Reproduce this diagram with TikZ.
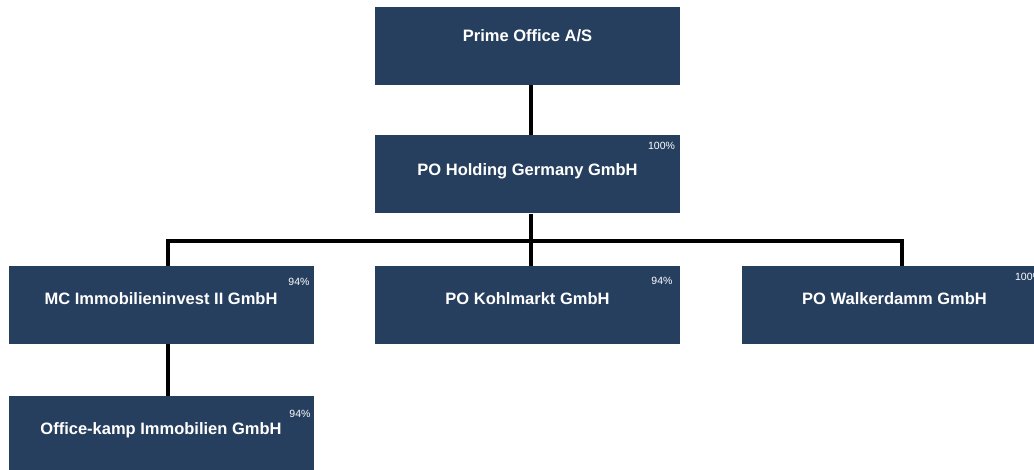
\documentclass[tikz,border=0pt]{standalone}
\usepackage{fontspec}
\setmainfont{Liberation Sans}
\usetikzlibrary{positioning}
\definecolor{boxblue}{RGB}{39,63,95}
\tikzset{
  entity/.style={fill=boxblue, text=white, inner sep=0pt, minimum width=305pt,
    text height=39pt, text depth=39pt, font=\fontsize{16.5}{18}\selectfont\bfseries},
  share/.style={text=white, inner sep=0pt, font=\fontsize{10.5}{12}\selectfont},
  link/.style={line width=4pt, black, line join=miter}
}

\begin{document}
\begin{tikzpicture}[x=1pt, y=-1pt]
    \clip (0,0) rectangle (1034,470);
    % companies
    \node[entity, text height=34.5pt, text depth=43.5pt] (prime) at (527.5,46) {Prime Office A/S};
    \node[entity, text height=40.5pt, text depth=37.5pt] (holding) at (527.5,174.5) {PO Holding Germany GmbH};
    \node[entity] (mcinv) at (161,305) {MC Immobilieninvest II GmbH};
    \node[entity] (kohl) at (527.5,305) {PO Kohlmarkt GmbH};
    \node[entity] (walker) at (894.5,305) {PO Walkerdamm GmbH};
    \node[entity, text height=38pt, text depth=40pt] (okamp) at (161,435) {Office-kamp Immobilien GmbH};
    % shares
    \node[share, below left=6.7pt and 5pt of holding.north east] (pholding) {100\%};
    \node[share, below left=11.7pt and 4pt of mcinv.north east] (pmcinv) {94\%};
    \node[share, below left=11pt and 7.5pt of kohl.north east] (pkohl) {94\%};
    \node[share, below left=6.7pt and 5pt of walker.north east] (pwalker) {100\%};
    \node[share, below left=14.3pt and 3pt of okamp.north east] (pokamp) {94\%};
    % connectors
    \coordinate (bus) at (531,241);
    \coordinate (busL) at (168,241);
    \coordinate (busR) at (902,241);
    \draw[link] (prime.south -| bus) -- (holding.north -| bus);
    \draw[link] (holding.south -| bus) -- (kohl.north -| bus);
    \draw[link] (mcinv.north -| busL) -- (busL) -- (busR) -- (walker.north -| busR);
    \draw[link] (mcinv.south -| busL) -- (okamp.north -| busL);
\end{tikzpicture}
\end{document}
